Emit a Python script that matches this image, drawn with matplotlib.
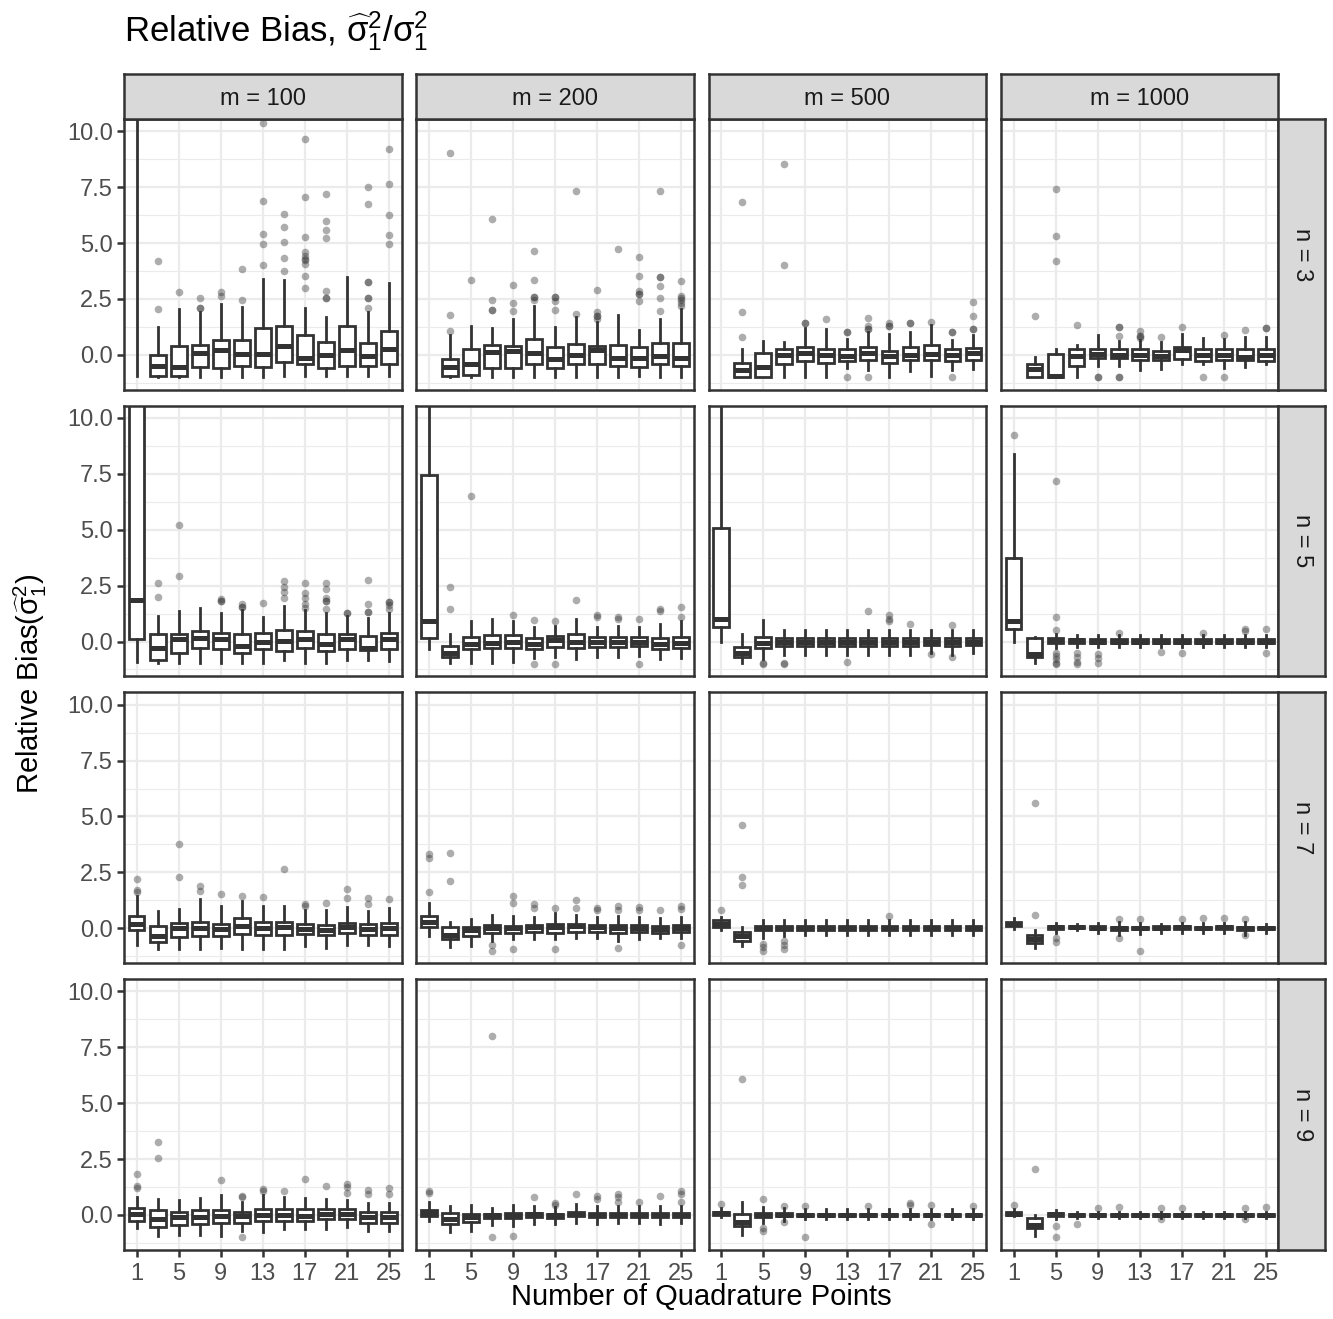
import matplotlib
matplotlib.use("Agg")
import matplotlib.pyplot as plt

plt.rcParams["font.family"] = ["Liberation Sans", "DejaVu Sans"]
plt.rcParams["mathtext.fontset"] = "custom"
plt.rcParams["mathtext.rm"] = "Liberation Sans"
plt.rcParams["mathtext.it"] = "Liberation Sans"
plt.rcParams["mathtext.bf"] = "Liberation Sans:bold"

W, H = 1333, 1319

quad_points = [1, 3, 5, 7, 9, 11, 13, 15, 17, 19, 21, 23, 25]
x_ticks = [1, 5, 9, 13, 17, 21, 25]
y_ticks = [0, 2.5, 5, 7.5, 10]
y_ticklabels = ["0.0", "2.5", "5.0", "7.5", "10.0"]
y_minor = [-1.25, 1.25, 3.75, 6.25, 8.75]
m_labels = ["m = 100", "m = 200", "m = 500", "m = 1000"]
n_labels = ["n = 3", "n = 5", "n = 7", "n = 9"]

# each box: (lower whisker, q1, median, q3, upper whisker, outliers), one per quadrature point
m100_n3 = [
    (-0.95, 15, 30, 60, 100, []),
    (-1.0, -0.95, -0.48, 0.0, 1.25, [4.18, 2.05]),
    (-1.0, -0.95, -0.54, 0.38, 2.05, [2.8]),
    (-1.0, -0.55, 0.1, 0.46, 1.92, [2.53, 2.1, 2.1]),
    (-1.0, -0.58, 0.2, 0.68, 2.28, [2.8, 2.65]),
    (-1.0, -0.5, 0.04, 0.68, 2.12, [3.84, 2.47]),
    (-1.0, -0.55, 0.05, 1.2, 3.39, [10.36, 6.86, 5.42, 4.96, 4.03]),
    (-0.95, -0.31, 0.38, 1.31, 3.33, [6.3, 5.73, 5.06, 4.33, 3.76]),
    (-0.95, -0.4, -0.13, 0.88, 2.1, [9.66, 7.05, 5.28, 4.58, 4.4, 4.25, 4.07, 3.54, 2.99, 4.3]),
    (-0.95, -0.58, 0.01, 0.56, 1.7, [7.2, 6.0, 5.6, 5.22, 2.87, 2.54, 2.54]),
    (-0.95, -0.48, 0.2, 1.31, 3.47, []),
    (-0.95, -0.48, -0.05, 0.54, 1.92, [7.53, 6.75, 3.24, 3.24, 2.54, 2.54, 2.08]),
    (-0.95, -0.4, 0.27, 1.08, 3.21, [9.21, 7.63, 6.25, 5.38, 4.98]),
]
m200_n3 = [
    (15, 20, 40, 80, 150, []),
    (-1.0, -0.95, -0.54, -0.18, 0.88, [9.05, 1.8, 1.08]),
    (-1.0, -0.92, -0.43, 0.24, 1.31, [3.36]),
    (-1.0, -0.58, 0.12, 0.46, 1.2, [6.07, 2.47, 2.02, 2.02]),
    (-1.0, -0.58, 0.16, 0.41, 1.6, [3.14, 2.32, 1.95]),
    (-1.0, -0.43, 0.09, 0.71, 2.2, [4.66, 3.33, 2.59, 2.59, 2.44]),
    (-1.0, -0.58, -0.18, 0.36, 1.25, [2.57, 2.57, 2.4, 2.02]),
    (-1.0, -0.43, 0.01, 0.49, 1.7, [7.35, 1.84]),
    (-1.0, -0.39, 0.2, 0.41, 1.47, [2.92, 1.9, 1.72, 1.72, 1.6]),
    (-1.0, -0.48, -0.13, 0.46, 1.8, [4.75]),
    (-0.95, -0.54, -0.13, 0.36, 1.1, [4.37, 3.54, 2.84, 2.74, 2.74, 2.42]),
    (-1.0, -0.43, -0.03, 0.54, 1.62, [7.35, 3.47, 3.47, 3.07, 2.53, 1.95]),
    (-1.0, -0.5, -0.13, 0.54, 2.05, [3.29, 2.65, 2.54, 2.44, 2.32, 2.2]),
]
m500_n3 = [
    (15, 20, 40, 80, 150, []),
    (-1.0, -0.97, -0.66, -0.36, 0.27, [6.83, 1.92, 0.8]),
    (-1.0, -0.97, -0.54, 0.09, 0.64, []),
    (-1.0, -0.43, 0.01, 0.27, 0.58, [8.53, 4.04]),
    (-1.0, -0.29, 0.09, 0.34, 1.2, [1.41, 1.41]),
    (-1.0, -0.36, 0.01, 0.27, 1.17, [1.62]),
    (-0.58, -0.29, -0.06, 0.24, 0.71, [1.0, 1.0, -1.0]),
    (-0.66, -0.21, 0.09, 0.34, 1.0, [1.65, 1.28, 1.16, 1.16, -1.0]),
    (-1.0, -0.36, -0.03, 0.16, 0.94, [1.43, 1.28, 1.28]),
    (-0.73, -0.24, 0.01, 0.34, 1.03, [1.43, 1.43]),
    (-0.96, -0.21, 0.04, 0.46, 1.35, [1.46]),
    (-0.66, -0.29, -0.02, 0.24, 0.68, [1.04, 1.04, -1.0]),
    (-0.63, -0.24, 0.09, 0.3, 0.88, [2.38, 1.72, 1.16, 1.16]),
]
m1000_n3 = [
    (15, 20, 40, 80, 150, []),
    (-1.0, -0.98, -0.63, -0.39, -0.11, [1.72]),
    (-1.0, -1.0, -0.96, 0.04, 0.24, [7.41, 5.33, 4.18]),
    (-1.0, -0.48, -0.06, 0.24, 0.46, [1.32]),
    (-0.51, -0.15, 0.04, 0.28, 0.91, [-1.0, -1.0]),
    (-0.51, -0.15, 0.01, 0.24, 0.61, [1.23, 1.23, 0.86, -1.0, -1.0]),
    (-0.69, -0.21, -0.02, 0.24, 0.68, [1.08, 0.86, 0.86, 0.76]),
    (-0.63, -0.24, -0.06, 0.18, 0.56, [0.79]),
    (-0.43, -0.18, 0.2, 0.36, 0.95, [1.23]),
    (-0.43, -0.29, -0.02, 0.24, 0.74, [-1.0]),
    (-0.58, -0.24, -0.02, 0.24, 0.71, [0.91, -1.0]),
    (-0.55, -0.21, -0.11, 0.24, 0.79, [1.12]),
    (-0.43, -0.29, -0.02, 0.24, 0.79, [1.19, 1.19]),
]

m100_n5 = [
    (-0.91, 0.13, 1.84, 14, 40, []),
    (-0.97, -0.82, -0.31, 0.33, 1.14, [2.63, 2.0]),
    (-0.97, -0.49, 0.13, 0.33, 1.37, [5.2, 2.93]),
    (-0.97, -0.31, 0.15, 0.47, 1.49, []),
    (-0.97, -0.34, 0.1, 0.37, 1.29, [1.89, 1.8, 1.8]),
    (-0.97, -0.52, -0.2, 0.33, 1.41, [1.67, 1.56, 1.56]),
    (-0.97, -0.34, -0.02, 0.4, 1.12, [1.74]),
    (-0.83, -0.43, 0.03, 0.52, 1.59, [2.71, 2.44, 2.21, 1.95]),
    (-0.97, -0.27, 0.13, 0.45, 1.4, [2.63, 2.19, 1.96, 1.67, 1.52]),
    (-0.97, -0.42, -0.09, 0.33, 1.29, [2.6, 2.33, 1.93, 1.81, 1.81, 1.47]),
    (-0.82, -0.34, 0.1, 0.33, 1.14, [1.29, 1.29]),
    (-0.82, -0.37, -0.27, 0.25, 1.07, [2.74, 1.67, 1.34, 1.34]),
    (-0.87, -0.34, 0.1, 0.4, 1.29, [1.77, 1.77, 1.62, 1.47]),
]
m200_n5 = [
    (-0.35, 0.15, 0.9, 7.47, 30, []),
    (-0.95, -0.7, -0.5, -0.2, 0.35, [2.45, 1.45]),
    (-0.95, -0.35, -0.1, 0.2, 0.9, [6.5]),
    (-0.95, -0.3, -0.05, 0.3, 1.0, []),
    (-0.9, -0.3, 0.0, 0.3, 0.9, [1.2]),
    (-0.75, -0.35, -0.1, 0.15, 0.65, [0.95, -1.0]),
    (-0.7, -0.25, 0.05, 0.25, 0.7, [0.9, -1.0]),
    (-0.8, -0.3, 0.0, 0.35, 1.0, [1.85]),
    (-0.7, -0.25, 0.0, 0.2, 0.65, [1.2, 1.1]),
    (-0.7, -0.25, 0.0, 0.2, 0.7, [1.1, 1.0]),
    (-0.65, -0.2, 0.0, 0.2, 0.65, [1.0, -1.0]),
    (-0.8, -0.35, -0.1, 0.15, 0.8, [1.45, 1.35]),
    (-0.75, -0.3, -0.05, 0.2, 0.9, [1.55, 1.1]),
]
m500_n5 = [
    (0.0, 0.65, 1.0, 5.1, 30, []),
    (-0.95, -0.7, -0.5, -0.25, 0.35, []),
    (-0.8, -0.3, -0.05, 0.2, 0.95, [-0.95, -1.0]),
    (-0.6, -0.2, 0.0, 0.15, 0.5, [-0.95, -1.0]),
    (-0.6, -0.2, 0.0, 0.15, 0.5, []),
    (-0.6, -0.2, 0.0, 0.15, 0.5, []),
    (-0.6, -0.2, 0.0, 0.15, 0.5, [-0.9]),
    (-0.6, -0.2, 0.0, 0.15, 0.5, [1.35]),
    (-0.6, -0.2, 0.0, 0.15, 0.5, [1.2, 1.0, 0.9]),
    (-0.6, -0.2, 0.0, 0.15, 0.5, [0.8]),
    (-0.5, -0.15, 0.0, 0.15, 0.5, [-0.55]),
    (-0.6, -0.2, 0.0, 0.15, 0.5, [0.75, -0.7]),
    (-0.5, -0.15, 0.0, 0.15, 0.5, []),
]
m1000_n5 = [
    (0.0, 0.55, 0.9, 3.75, 8.4, [9.25]),
    (-0.95, -0.7, -0.55, 0.15, 0.2, []),
    (-0.3, -0.05, 0.05, 0.15, 0.35, [7.2, 1.1, 0.5, -0.5, -0.65, -0.8, -0.95, -1.0]),
    (-0.25, -0.05, 0.05, 0.1, 0.3, [-0.5, -0.7, -0.9, -1.0]),
    (-0.25, -0.05, 0.0, 0.1, 0.3, [-0.55, -0.75, -0.95]),
    (-0.25, -0.05, 0.0, 0.1, 0.3, [0.4]),
    (-0.25, -0.05, 0.0, 0.1, 0.3, []),
    (-0.25, -0.05, 0.0, 0.1, 0.3, [-0.45]),
    (-0.25, -0.05, 0.0, 0.1, 0.3, [-0.5]),
    (-0.25, -0.05, 0.0, 0.1, 0.3, [0.4]),
    (-0.25, -0.05, 0.0, 0.1, 0.3, []),
    (-0.25, -0.05, 0.0, 0.1, 0.3, [0.55, 0.45]),
    (-0.25, -0.05, 0.0, 0.1, 0.3, [0.55, -0.5]),
]

m100_n7 = [
    (-0.75, -0.1, 0.2, 0.55, 1.45, [2.2, 1.7, 1.6]),
    (-0.95, -0.6, -0.35, 0.1, 0.75, []),
    (-0.95, -0.4, 0.0, 0.25, 0.85, [3.75, 2.3]),
    (-0.95, -0.35, 0.0, 0.3, 1.3, [1.9, 1.65]),
    (-0.9, -0.35, -0.05, 0.2, 1.0, [1.55]),
    (-0.95, -0.25, 0.1, 0.45, 1.2, [1.45]),
    (-0.95, -0.3, 0.0, 0.3, 1.0, [1.4]),
    (-0.95, -0.3, 0.05, 0.3, 1.0, [2.65]),
    (-0.8, -0.25, -0.05, 0.2, 0.8, [1.1, 1.0]),
    (-0.9, -0.3, -0.1, 0.15, 0.8, [1.15]),
    (-0.75, -0.2, 0.05, 0.25, 0.95, [1.75, 1.35]),
    (-0.75, -0.3, -0.05, 0.2, 0.75, [1.35, 1.1]),
    (-0.8, -0.3, 0.0, 0.25, 0.9, [1.3]),
]
m200_n7 = [
    (-0.35, 0.05, 0.3, 0.55, 1.15, [3.3, 3.15, 1.6]),
    (-0.85, -0.5, -0.3, 0.05, 0.3, [3.35, 2.1]),
    (-0.8, -0.35, -0.1, 0.05, 0.4, []),
    (-0.55, -0.2, 0.0, 0.15, 0.6, [-0.75, -1.0]),
    (-0.5, -0.2, 0.0, 0.1, 0.55, [1.45, 1.15, -0.95]),
    (-0.5, -0.15, 0.05, 0.15, 0.5, [1.1, 0.9]),
    (-0.5, -0.2, 0.05, 0.2, 0.7, [0.9, -0.95]),
    (-0.45, -0.15, 0.1, 0.2, 0.6, [1.25, 0.9]),
    (-0.45, -0.15, 0.05, 0.15, 0.5, [0.9, 0.8]),
    (-0.55, -0.2, 0.0, 0.15, 0.55, [1.0, 0.8, -0.9]),
    (-0.5, -0.15, 0.0, 0.15, 0.5, [0.95, 0.8]),
    (-0.45, -0.2, -0.05, 0.1, 0.45, [0.8]),
    (-0.45, -0.15, 0.0, 0.15, 0.5, [1.0, 0.85, -0.75]),
]
m500_n7 = [
    (-0.1, 0.05, 0.2, 0.35, 0.5, [0.8]),
    (-0.8, -0.55, -0.35, -0.15, 0.05, [4.6, 2.3, 1.95]),
    (-0.45, -0.1, 0.0, 0.1, 0.35, [-0.7, -0.85, -1.0]),
    (-0.35, -0.1, 0.0, 0.1, 0.35, [-0.55, -0.75, -0.95]),
    (-0.3, -0.1, 0.0, 0.1, 0.35, []),
    (-0.3, -0.1, 0.0, 0.1, 0.35, []),
    (-0.3, -0.1, 0.0, 0.1, 0.35, []),
    (-0.3, -0.1, 0.0, 0.1, 0.35, []),
    (-0.3, -0.1, 0.0, 0.1, 0.35, [0.55]),
    (-0.3, -0.1, 0.0, 0.1, 0.35, []),
    (-0.3, -0.1, 0.0, 0.1, 0.35, []),
    (-0.3, -0.1, 0.0, 0.1, 0.35, []),
    (-0.3, -0.1, 0.0, 0.1, 0.35, []),
]
m1000_n7 = [
    (-0.05, 0.1, 0.2, 0.3, 0.45, []),
    (-0.9, -0.65, -0.5, -0.3, -0.1, [5.6, 0.6]),
    (-0.2, -0.05, 0.05, 0.1, 0.25, [-0.45, -0.6]),
    (-0.1, 0.0, 0.05, 0.1, 0.2, []),
    (-0.2, -0.05, 0.0, 0.1, 0.25, []),
    (-0.3, -0.1, 0.0, 0.05, 0.3, [0.4, -0.45]),
    (-0.25, -0.05, 0.0, 0.05, 0.25, [0.4, -1.0]),
    (-0.2, -0.05, 0.0, 0.1, 0.2, []),
    (-0.2, -0.05, 0.05, 0.1, 0.25, [0.4]),
    (-0.2, -0.05, 0.0, 0.05, 0.25, [0.45]),
    (-0.2, -0.05, 0.05, 0.1, 0.25, [0.45]),
    (-0.3, -0.1, 0.0, 0.05, 0.3, [0.4, -0.3]),
    (-0.2, -0.05, 0.0, 0.05, 0.2, []),
]

m100_n9 = [
    (-0.6, -0.25, 0.05, 0.3, 0.8, [1.85, 1.3, 1.2]),
    (-0.95, -0.55, -0.2, 0.2, 0.7, [3.25, 2.55]),
    (-0.9, -0.45, -0.1, 0.15, 0.65, []),
    (-0.9, -0.4, -0.1, 0.2, 0.75, []),
    (-0.95, -0.35, -0.05, 0.2, 0.9, [1.55]),
    (-0.7, -0.35, -0.05, 0.15, 0.6, [0.85, 0.8, -1.0]),
    (-0.75, -0.25, 0.0, 0.25, 0.9, [1.15, 1.05]),
    (-0.65, -0.25, 0.0, 0.25, 0.8, [1.05]),
    (-0.65, -0.25, -0.05, 0.25, 0.75, [1.6]),
    (-0.65, -0.2, 0.05, 0.25, 0.7, [1.3]),
    (-0.55, -0.2, 0.05, 0.25, 0.65, [1.4, 1.25, 1.0]),
    (-0.7, -0.35, -0.1, 0.15, 0.55, [1.1, 0.95]),
    (-0.7, -0.35, -0.1, 0.15, 0.55, [1.2, 0.95]),
]
m200_n9 = [
    (-0.25, -0.05, 0.1, 0.2, 0.6, [1.05, 1.0]),
    (-0.75, -0.4, -0.2, 0.1, 0.4, []),
    (-0.7, -0.3, -0.1, 0.05, 0.45, []),
    (-0.45, -0.15, 0.0, 0.05, 0.3, [8.0, -1.0]),
    (-0.5, -0.15, 0.0, 0.1, 0.45, [-0.95]),
    (-0.4, -0.1, 0.05, 0.1, 0.4, [0.8]),
    (-0.4, -0.15, 0.0, 0.05, 0.35, [0.55, 0.45]),
    (-0.35, -0.05, 0.05, 0.15, 0.5, [0.95]),
    (-0.4, -0.1, 0.0, 0.1, 0.4, [0.85, 0.7]),
    (-0.35, -0.1, 0.0, 0.1, 0.4, [0.95, 0.8, 0.6]),
    (-0.35, -0.1, 0.0, 0.1, 0.4, [0.6]),
    (-0.4, -0.1, 0.0, 0.1, 0.4, [0.85]),
    (-0.35, -0.1, 0.0, 0.1, 0.4, [1.05, 0.95, 0.6]),
]
m500_n9 = [
    (-0.1, 0.0, 0.1, 0.15, 0.3, [0.5]),
    (-0.9, -0.5, -0.3, 0.05, 0.6, [6.1]),
    (-0.35, -0.1, 0.0, 0.1, 0.35, [0.7, -0.6, -0.7]),
    (-0.25, -0.05, 0.0, 0.1, 0.3, [0.4, -0.3]),
    (-0.2, -0.05, 0.0, 0.05, 0.25, [0.4, -1.0]),
    (-0.2, -0.05, 0.0, 0.05, 0.25, []),
    (-0.2, -0.05, 0.0, 0.05, 0.25, []),
    (-0.2, -0.05, 0.0, 0.05, 0.25, [0.4]),
    (-0.2, -0.05, 0.0, 0.05, 0.25, []),
    (-0.2, -0.05, 0.0, 0.05, 0.25, [0.55, 0.45]),
    (-0.2, -0.05, 0.0, 0.05, 0.25, [0.45, -0.4]),
    (-0.2, -0.05, 0.0, 0.05, 0.25, []),
    (-0.2, -0.05, 0.0, 0.05, 0.25, [0.4]),
]
m1000_n9 = [
    (-0.05, 0.0, 0.05, 0.15, 0.25, [0.45]),
    (-0.95, -0.6, -0.45, -0.15, 0.0, [2.05]),
    (-0.2, -0.05, 0.05, 0.1, 0.2, [-0.5, -1.0]),
    (-0.15, -0.05, 0.0, 0.05, 0.15, [-0.4]),
    (-0.15, -0.05, 0.0, 0.05, 0.15, [0.3]),
    (-0.15, -0.05, 0.0, 0.05, 0.15, [0.35]),
    (-0.15, -0.05, 0.0, 0.05, 0.15, []),
    (-0.15, -0.05, 0.0, 0.05, 0.15, [0.3, -0.2]),
    (-0.15, -0.05, 0.0, 0.05, 0.15, [0.3]),
    (-0.15, -0.05, 0.0, 0.05, 0.15, []),
    (-0.15, -0.05, 0.0, 0.05, 0.15, []),
    (-0.15, -0.05, 0.0, 0.05, 0.15, [0.3, -0.2]),
    (-0.15, -0.05, 0.0, 0.05, 0.15, [0.35]),
]

panels = [
    [m100_n3, m200_n3, m500_n3, m1000_n3],
    [m100_n5, m200_n5, m500_n5, m1000_n5],
    [m100_n7, m200_n7, m500_n7, m1000_n7],
    [m100_n9, m200_n9, m500_n9, m1000_n9],
]

DARK = "#333333"
GRID = "#EBEBEB"
STRIP = "#D9D9D9"


def px_rect(x0, y0, x1, y1):
    # pixel box (top-left origin) -> figure fraction
    return [x0 / W, 1 - y1 / H, (x1 - x0) / W, (y1 - y0) / H]


def style_strip(ax):
    ax.set_facecolor(STRIP)
    ax.set_xticks([])
    ax.set_yticks([])
    for s in ax.spines.values():
        s.set_color(DARK)
        s.set_linewidth(1.8)


fig = plt.figure(figsize=(W / 100, H / 100), dpi=100)

col_left = [124 + i * 292.3 for i in range(4)]
row_top = [119 + j * 286.7 for j in range(4)]
pw, ph = 277.5, 270.5

for r in range(4):
    for c in range(4):
        x0, y0 = col_left[c], row_top[r]
        ax = fig.add_axes(px_rect(x0, y0, x0 + pw, y0 + ph))
        boxes = panels[r][c]
        stats = [dict(whislo=b[0], q1=b[1], med=b[2], q3=b[3], whishi=b[4], fliers=b[5])
                 for b in boxes]
        ax.bxp(stats, positions=quad_points, widths=1.5, patch_artist=True,
               showcaps=False, manage_ticks=False,
               boxprops=dict(facecolor="white", edgecolor=DARK, linewidth=2.0),
               medianprops=dict(color=DARK, linewidth=3.6, solid_capstyle="butt"),
               whiskerprops=dict(color=DARK, linewidth=2.0),
               flierprops=dict(marker="o", markersize=5.5, markerfacecolor=DARK,
                               markeredgecolor="none", alpha=0.4))
        ax.set_xlim(-0.2, 26.2)
        ax.set_ylim(-1.55, 10.55)
        ax.set_xticks(x_ticks)
        ax.set_xticklabels([str(v) for v in x_ticks])
        ax.set_yticks(y_ticks)
        ax.set_yticklabels(y_ticklabels)
        ax.set_yticks(y_minor, minor=True)
        ax.set_axisbelow(True)
        ax.grid(True, which="major", color=GRID, linewidth=1.6)
        ax.grid(True, which="minor", axis="y", color=GRID, linewidth=0.8)
        for s in ax.spines.values():
            s.set_color(DARK)
            s.set_linewidth(1.8)
        ax.tick_params(which="minor", length=0)
        ax.tick_params(which="major", length=5, width=1.8, color=DARK,
                       labelsize=17, labelcolor="#4D4D4D")
        ax.tick_params(axis="x", pad=5)
        ax.tick_params(axis="y", pad=3)
        ax.tick_params(left=(c == 0), labelleft=(c == 0),
                       bottom=(r == 3), labelbottom=(r == 3))

        if r == 0:
            sax = fig.add_axes(px_rect(x0, 73.5, x0 + pw, y0))
            style_strip(sax)
            sax.text(0.5, 0.5, m_labels[c], transform=sax.transAxes,
                     ha="center", va="center_baseline", fontsize=17, color="#1A1A1A")
        if c == 3:
            sax = fig.add_axes(px_rect(x0 + pw, y0, 1325, y0 + ph))
            style_strip(sax)
            sax.text(0.5, 0.5, n_labels[r], transform=sax.transAxes, rotation=-90,
                     ha="center", va="center", fontsize=17, color="#1A1A1A")

fig.text(124 / W, 1 - 41 / H,
         r"Relative Bias, $\widehat{\mathrm{\sigma}}_1^2/\mathrm{\sigma}_1^2$",
         fontsize=25, ha="left", va="baseline")
fig.text(701 / W, 1 - 1297 / H, "Number of Quadrature Points",
         fontsize=21, ha="center", va="center")
fig.text(30 / W, 1 - 684 / H, r"Relative Bias$(\widehat{\mathrm{\sigma}}_1^2)$",
         fontsize=21, ha="center", va="center", rotation=90)

fig.savefig("out.png", dpi=100)
